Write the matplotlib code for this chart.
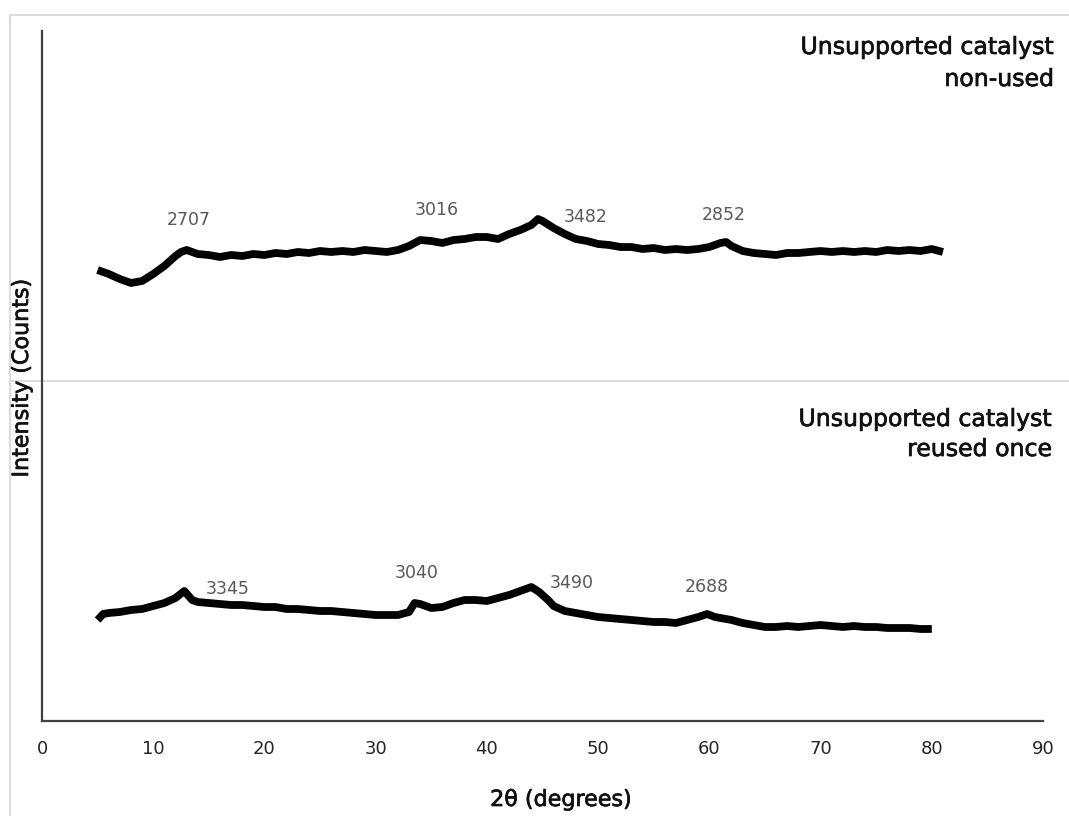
import matplotlib
matplotlib.use("Agg")
import matplotlib.pyplot as plt
from matplotlib.lines import Line2D
import matplotlib.patheffects as pe

# ---- data (2theta in degrees, intensity in arbitrary counts) ----
top_x = [5, 6, 7, 8, 9, 10, 11, 12, 12.5, 13, 14, 15, 16, 17, 18, 19, 20, 21, 22, 23,
         24, 25, 26, 27, 28, 29, 30, 31, 32, 33, 34, 35, 36, 37, 38, 39, 40, 41, 42, 43,
         44, 44.6, 45, 46, 47, 48, 49, 50, 51, 52, 53, 54, 55, 56, 57, 58, 59, 60, 61,
         61.5, 62, 63, 64, 65, 66, 67, 68, 69, 70, 71, 72, 73, 74, 75, 76, 77, 78, 79,
         80, 81]
top_px = [270, 274, 279, 283, 281, 274, 266, 256, 252, 250, 254, 255, 257, 255, 256, 254,
          255, 253, 254, 252, 253, 251, 252, 251, 252, 250, 251, 252, 250, 246, 240, 241,
          243, 240, 239, 237, 237, 239, 234, 230, 225, 219, 221, 228, 234, 239, 241, 244,
          245, 247, 247, 249, 248, 250, 249, 250, 249, 247, 243, 242, 246, 251, 253, 254,
          255, 253, 253, 252, 251, 252, 251, 252, 251, 252, 250, 251, 250, 251, 249, 252]
top_y = [721 - v for v in top_px]

bot_x = [5, 5.5, 6, 7, 8, 9, 10, 11, 12, 12.8, 13.5, 14, 15, 16, 17, 18, 19, 20, 21, 22,
         23, 24, 25, 26, 27, 28, 29, 30, 31, 32, 33, 33.5, 34, 35, 36, 37, 38, 39, 40, 41,
         42, 43, 44, 44.7, 45.5, 46, 47, 48, 49, 50, 51, 52, 53, 54, 55, 56, 57, 58, 59,
         59.8, 60.5, 61, 62, 63, 64, 65, 66, 67, 68, 69, 70, 71, 72, 73, 74, 75, 76, 77,
         78, 79, 80]
bot_px = [620, 614, 613, 612, 610, 609, 606, 603, 598, 591, 600, 602, 603, 604, 605, 605,
          606, 607, 607, 609, 609, 610, 611, 611, 612, 613, 614, 615, 615, 615, 612, 603,
          604, 608, 607, 603, 600, 600, 601, 598, 595, 591, 587, 592, 600, 606, 611, 613,
          615, 617, 618, 619, 620, 621, 622, 622, 623, 620, 617, 614, 617, 618, 620, 623,
          625, 627, 627, 626, 627, 626, 625, 626, 627, 626, 627, 627, 628, 628, 628, 629,
          629]
bot_y = [721 - v for v in bot_px]

top_labels = ["2707", "3016", "3482", "2852"]
top_label_x = [13.2, 35.5, 48.9, 61.3]
top_label_y = [501, 511, 504, 506]

bot_labels = ["3345", "3040", "3490", "2688"]
bot_label_x = [16.7, 33.7, 47.6, 59.8]
bot_label_y = [132, 148, 138, 134]

x_ticks = [0, 10, 20, 30, 40, 50, 60, 70, 80, 90]

W, H = 1069, 816
fig = plt.figure(figsize=(W / 100, H / 100), dpi=100)
fig.patch.set_facecolor("white")

# light frame lines of the original screenshot (behind the plot)
lc = "#dcdcdc"
fig.add_artist(Line2D([10 / W, 1], [1 - 15 / H, 1 - 15 / H], color=lc, lw=1.5,
                      transform=fig.transFigure))
fig.add_artist(Line2D([10 / W, 10 / W], [1 - 15 / H, 0], color=lc, lw=1.5,
                      transform=fig.transFigure))
fig.add_artist(Line2D([10 / W, 1], [1 - 381 / H, 1 - 381 / H], color=lc, lw=1.5,
                      transform=fig.transFigure))

ax = fig.add_axes([42 / W, 1 - 721 / H, (1043 - 42) / W, (721 - 31) / H])
ax.set_facecolor("none")
ax.set_zorder(2)
ax.set_xlim(0, 90)
ax.set_ylim(0, 690)

ax.plot(top_x, top_y, color="black", lw=5.6, solid_joinstyle="round", solid_capstyle="butt")
ax.plot(bot_x, bot_y, color="black", lw=5.6, solid_joinstyle="round", solid_capstyle="butt")

for t, x, y in zip(top_labels, top_label_x, top_label_y):
    ax.text(x, y, t, ha="center", va="center", fontsize=12.5, color="#595959",
            family="DejaVu Sans")
for t, x, y in zip(bot_labels, bot_label_x, bot_label_y):
    ax.text(x, y, t, ha="center", va="center", fontsize=12.5, color="#595959",
            family="DejaVu Sans")

ax.set_xticks(x_ticks)
ax.set_xticklabels([str(v) for v in x_ticks])
ax.set_yticks([])
ax.tick_params(axis="x", length=0, pad=14, labelsize=13, labelcolor="#262626")
for lab in ax.get_xticklabels():
    lab.set_family("DejaVu Sans")

for s in ["top", "right"]:
    ax.spines[s].set_visible(False)
for s in ["left", "bottom"]:
    ax.spines[s].set_color("#404040")
    ax.spines[s].set_linewidth(1.6)

heavy = [pe.withStroke(linewidth=0.5, foreground="#111111")]

# series titles
for xx, yy, txt in [(1054, 47, "Unsupported catalyst"), (1054, 79, "non-used"),
                    (1052, 419, "Unsupported catalyst"), (1052, 449, "reused once")]:
    fig.text(xx / W, 1 - yy / H, txt, ha="right", va="center", fontsize=17,
             color="#111111", family="DejaVu Sans", path_effects=heavy)

# axis titles
fig.text(561 / W, 1 - 800 / H, "2θ (degrees)", ha="center", va="center",
         fontsize=16, color="#111111", family="DejaVu Sans", path_effects=heavy)
fig.text(22 / W, 1 - 378 / H, "Intensity (Counts)", ha="center", va="center",
         rotation=90, fontsize=16, color="#111111", family="DejaVu Sans",
         path_effects=heavy)

fig.savefig("out.png", dpi=100, facecolor="white")
